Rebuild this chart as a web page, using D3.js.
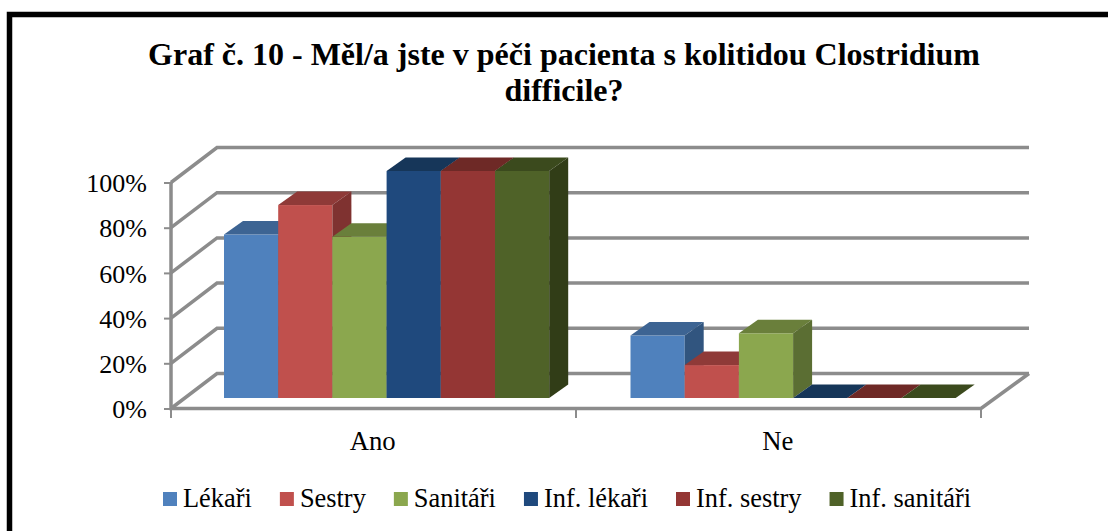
<!DOCTYPE html>
<html><head><meta charset="utf-8">
<script src="https://cdn.jsdelivr.net/npm/d3@7/dist/d3.min.js"></script>
<style>html,body{margin:0;padding:0;background:#fff}svg{display:block}text{font-family:"Liberation Serif",serif;fill:#000}</style>
</head><body><div id="c"></div>
<script>
const categories = ["Ano", "Ne"];
const seriesNames = ["Lékaři", "Sestry", "Sanitáři", "Inf. lékaři", "Inf. sestry", "Inf. sanitáři"];
const seriesAno = [72, 85, 71, 100, 100, 100];
const seriesNe = [27.5, 14.5, 28.5, 0, 0, 0];
const tickValues = [0, 20, 40, 60, 80, 100];
const titleLines = ["Graf č. 10 - Měl/a jste v péči pacienta s kolitidou Clostridium", "difficile?"];
const frontColors = ["#4f81bd", "#c0504d", "#8ba74e", "#1f497d", "#943634", "#4f6228"];
const topColors = ["#3d6493", "#8f3a38", "#6a7f3b", "#163659", "#6e2926", "#3b4a1d"];
const sideColors = ["#31557f", "#7f3230", "#5b6e33", "#122c4a", "#5b211f", "#313d17"];

const W = 1108, H = 531;
const svg = d3.select("#c").append("svg").attr("width", W).attr("height", H);

// frame
svg.append("path").attr("d", `M9.5 ${H} V14.5 H${W}`).attr("fill", "none").attr("stroke", "#000").attr("stroke-width", 5.5);

// title
svg.append("g").selectAll("text").data(titleLines).join("text")
  .attr("x", 564).attr("y", (d, i) => 65 + i * 36)
  .attr("text-anchor", "middle").attr("font-weight", "bold").attr("font-size", 32).text(d => d);

// scales
const axisLeft = 171, axisRight = 981, depthX = 46, depthY = 35;
const yAxis = d3.scaleLinear().domain([0, 100]).range([408.5, 182.5]);
const yBar = d3.scaleLinear().domain([0, 100]).range([398, 171]);
const x0 = d3.scaleBand().domain(categories).range([axisLeft, axisRight]);
const xBars = d3.scaleBand().domain(categories).range([axisLeft, axisRight + 3]);
const barW = 54.2, clusterW = barW * seriesNames.length;
const x1 = d3.scaleBand().domain(seriesNames).range([0, clusterW]);
const barDX = 19, barDY = 13.5;
const grey = "#8c8c8c";

// walls & gridlines
const grid = svg.append("g").attr("fill", "none").attr("stroke", grey).attr("stroke-width", 3.5);
tickValues.forEach(t => {
  const y = yAxis(t);
  grid.append("path").attr("d", `M${axisLeft} ${y} L${axisLeft + depthX} ${y - depthY} H${axisRight + depthX + 2}`);
});
grid.append("path").attr("d", `M${axisRight + depthX + 2} ${yAxis(0) - depthY} L${axisRight} ${yAxis(0)} H${axisLeft} V${yAxis(100)}`);

// y axis (ticks + labels)
const gy = svg.append("g").attr("transform", `translate(${axisLeft},0)`)
  .call(d3.axisLeft(yAxis).tickValues(tickValues).tickFormat(d => d + "%").tickSize(7).tickPadding(17));
gy.select(".domain").remove();
gy.selectAll("line").attr("stroke", grey).attr("stroke-width", 2);
gy.selectAll("text").attr("font-size", 26).attr("font-family", "Liberation Serif").attr("fill", "#000").attr("dy", "0.35em");

// x axis
const xTicks = [axisLeft, axisLeft + x0.step(), axisRight];
svg.append("g").selectAll("line").data(xTicks).join("line")
  .attr("x1", d => d).attr("x2", d => d).attr("y1", 409).attr("y2", 418)
  .attr("stroke", grey).attr("stroke-width", 2);
svg.append("g").selectAll("text").data(categories).join("text")
  .attr("x", d => x0(d) + x0.bandwidth() / 2 - 0.8).attr("y", 450)
  .attr("text-anchor", "middle").attr("font-size", 26.7).text(d => d);

// bars
const rows = categories.map((c, i) => ({ c, values: i === 0 ? seriesAno : seriesNe }));
rows.forEach(r => {
  const start = xBars(r.c) + 53;
  r.values.forEach((v, s) => {
    const x = start + x1(seriesNames[s]), w = x1.bandwidth(), y0 = yBar(0), y = yBar(v);
    const g = svg.append("g");
    g.append("rect").attr("x", x).attr("y", y).attr("width", w).attr("height", y0 - y).attr("fill", frontColors[s]);
    g.append("path").attr("fill", topColors[s])
      .attr("d", `M${x} ${y} l${barDX} ${-barDY} h${w} l${-barDX} ${barDY} Z`);
    g.append("path").attr("fill", sideColors[s])
      .attr("d", `M${x + w} ${y} l${barDX} ${-barDY} V${y0 - barDY} L${x + w} ${y0} Z`);
  });
});

// legend
const legend = svg.append("g");
let lx = 163;
seriesNames.forEach((n, i) => {
  legend.append("rect").attr("x", lx).attr("y", 492).attr("width", 14).attr("height", 14).attr("fill", frontColors[i]);
  const t = legend.append("text").attr("x", lx + 20).attr("y", 507).attr("font-size", 26.4).text(n);
  lx += 20 + t.node().getComputedTextLength() + 28;
});
</script></body></html>
